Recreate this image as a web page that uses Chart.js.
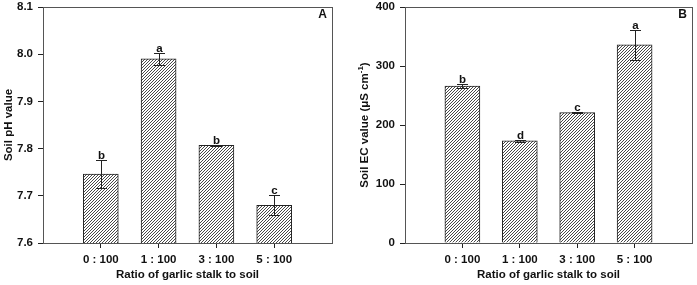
<!DOCTYPE html>
<html>
<head>
<meta charset="utf-8">
<script src="https://cdn.jsdelivr.net/npm/chart.js@4.4.1/dist/chart.umd.min.js"></script>
<style>
  html, body { margin: 0; padding: 0; background: #fff; }
  #wrap { position: relative; width: 697px; height: 285px; }
  canvas { position: absolute; top: 0; }
  #cA { left: 0; }
  #cB { left: 347px; }
</style>
</head>
<body>
<div id="wrap">
  <canvas id="cA" width="347" height="285"></canvas>
  <canvas id="cB" width="350" height="285"></canvas>
</div>
<script>
const categories = ["0 : 100", "1 : 100", "3 : 100", "5 : 100"]
const phValues = [7.746, 7.990, 7.807, 7.680]
const phErrors = [0.029, 0.012, 0.001, 0.021]
const phLetters = ["b", "a", "b", "c"]
const ecValues = [266, 173, 221, 336]
const ecErrors = [4, 2, 1, 25]
const ecLetters = ["b", "d", "c", "a"]

const FONT = "'Liberation Sans', Arial, sans-serif"
const INK = "#222"

// empty slot on each side so the bars sit like the original
const labels = ["", ...categories, ""]
const pad = arr => [null, ...arr, null]

function hatch() {
  const n = 3
  const c = document.createElement("canvas")
  c.width = n; c.height = n
  const g = c.getContext("2d")
  g.fillStyle = "#fff"
  g.fillRect(0, 0, n, n)
  g.strokeStyle = "#333"
  g.lineWidth = 0.9
  g.beginPath()
  g.moveTo(-1, n + 1); g.lineTo(n + 1, -1)
  g.moveTo(-n - 1, n + 1); g.lineTo(1, -1)
  g.moveTo(n - 1, 2 * n + 1); g.lineTo(2 * n + 1, n - 1)
  g.stroke()
  return g.createPattern(c, "repeat")
}

const decorations = {
  id: "decorations",
  afterDatasetsDraw(chart, args, opts) {
    const { ctx, chartArea: a } = chart
    const y = chart.scales.y
    const meta = chart.getDatasetMeta(0)
    ctx.save()
    // error bars + letters
    ctx.strokeStyle = INK
    ctx.lineWidth = 1
    ctx.fillStyle = "#111"
    ctx.font = "bold 11.5px " + FONT
    ctx.textAlign = "center"
    ctx.textBaseline = "alphabetic"
    opts.errors.forEach((e, i) => {
      const el = meta.data[i + 1]
      const v = opts.values[i]
      const x = Math.round(el.x) + 0.5
      const top = Math.round(y.getPixelForValue(v + e)) + 0.5
      const bot = Math.round(y.getPixelForValue(v - e)) + 0.5
      ctx.beginPath()
      ctx.moveTo(x, top); ctx.lineTo(x, bot)
      ctx.moveTo(x - 5.5, top); ctx.lineTo(x + 5.5, top)
      ctx.moveTo(x - 5.5, bot); ctx.lineTo(x + 5.5, bot)
      ctx.stroke()
      ctx.fillText(opts.letters[i], x, top - 2)
    })
    // frame
    ctx.strokeStyle = "#555"
    ctx.strokeRect(Math.round(a.left) + 0.5, Math.round(a.top) + 0.5, Math.round(a.right - a.left), Math.round(a.bottom - a.top))
    // panel letter
    ctx.font = "bold 12px " + FONT
    ctx.textAlign = "right"
    ctx.textBaseline = "middle"
    ctx.fillText(opts.panel, a.right - 5, a.top + 8)
    // y title, pieces so the superscript can be drawn
    ctx.translate(opts.titleX, (a.top + a.bottom) / 2)
    ctx.rotate(-Math.PI / 2)
    const big = "bold 11.5px " + FONT, small = "bold 8px " + FONT
    let total = 0
    opts.title.forEach(p => { ctx.font = p.sup ? small : big; total += ctx.measureText(p.t).width })
    let x = -total / 2
    ctx.textAlign = "left"
    ctx.textBaseline = "middle"
    opts.title.forEach(p => {
      ctx.font = p.sup ? small : big
      ctx.fillText(p.t, x, p.sup ? -4 : 0)
      x += ctx.measureText(p.t).width
    })
    ctx.restore()
  }
}

function makeChart(canvas, values, errors, letters, yAxis, yWidth, padRight, title, titleX, panel) {
  return new Chart(canvas, {
    type: "bar",
    data: {
      labels,
      datasets: [{
        data: pad(values),
        backgroundColor: hatch(),
        borderColor: INK,
        borderWidth: 1,
        barThickness: 35
      }]
    },
    options: {
      responsive: false,
      animation: false,
      layout: { padding: { top: 0, right: padRight, left: 0, bottom: 0 } },
      plugins: {
        legend: { display: false },
        tooltip: { enabled: false },
        decorations: { values, errors, letters, title, titleX, panel }
      },
      scales: {
        x: {
          offset: false,
          grid: {
            offset: false,
            drawOnChartArea: false,
            tickLength: 5,
            tickColor: c => (c.index === 0 || c.index === labels.length - 1) ? "rgba(0,0,0,0)" : INK
          },
          border: { color: "#333" },
          ticks: { color: "#111", padding: 5, maxRotation: 0, autoSkip: false, font: { family: FONT, size: 11.5, weight: "bold" } },
          title: { display: true, text: "Ratio of garlic stalk to soil", color: "#111", padding: { top: 0, bottom: 3 }, font: { family: FONT, size: 11.5, weight: "bold" } },
          afterFit: s => { s.height = 42 }
        },
        y: {
          ...yAxis,
          grid: { drawOnChartArea: false, tickLength: 5, tickColor: INK },
          border: { color: "#333" },
          ticks: { ...yAxis.ticks, color: "#111", padding: 5, font: { family: FONT, size: 11.5, weight: "bold" } },
          afterFit: s => { s.width = yWidth; s.paddingTop = 7; s.paddingBottom = 0 }
        }
      }
    },
    plugins: [decorations]
  })
}

makeChart(document.getElementById("cA"), phValues, phErrors, phLetters,
  { min: 7.6, max: 8.1, ticks: { stepSize: 0.1, callback: v => v.toFixed(1) } },
  43, 15, [{ t: "Soil pH value" }], 8.5, "A")

makeChart(document.getElementById("cB"), ecValues, ecErrors, ecLetters,
  { min: 0, max: 400, ticks: { stepSize: 100 } },
  58, 3.5, [{ t: "Soil EC value (μS cm" }, { t: "-1", sup: true }, { t: ")" }], 18, "B")
</script>
</body>
</html>
